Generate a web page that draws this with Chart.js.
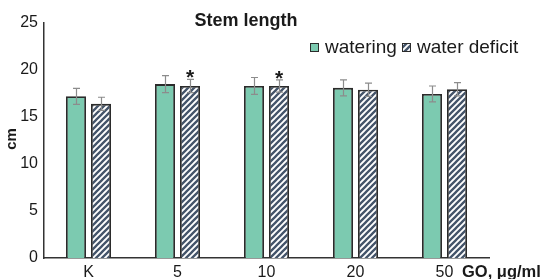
<!DOCTYPE html>
<html>
<head>
<meta charset="utf-8">
<script src="https://cdn.jsdelivr.net/npm/chart.js@4.4.1/dist/chart.umd.min.js"></script>
<style>
html,body{margin:0;padding:0;background:#fff;}
#wrap{width:545px;height:279px;position:relative;}
</style>
</head>
<body>
<div id="wrap"><canvas id="c" width="545" height="279"></canvas></div>
<script>
const categories = ['K', '5', '10', '20', '50'];
const watering = [17.2, 18.5, 18.3, 18.1, 17.45];
const wateringErr = [0.85, 0.9, 0.9, 0.85, 0.85];
const deficit = [16.4, 18.3, 18.3, 17.9, 17.95];
const deficitErr = [0.7, 0.7, 0.65, 0.7, 0.7];
const significance = ['', '*', '*', '', ''];
const seriesNames = ['watering', 'water deficit'];
const yMin = 0, yMax = 25, yStep = 5;
const chartTitle = 'Stem length';
const yTitle = 'cm';
const xTitle = 'GO, μg/ml';

const FONT = '"Liberation Sans", Arial, sans-serif';
const GREEN = '#7ccab0';
const EDGE = '#2b2b2b';
const STRIPE = '#44546a';

const canvas = document.getElementById('c');
const ctx = canvas.getContext('2d');

function makeHatch() {
  const s = 6;
  const c = document.createElement('canvas');
  c.width = s; c.height = s;
  const g = c.getContext('2d');
  g.fillStyle = '#fff';
  g.fillRect(0, 0, s, s);
  g.strokeStyle = STRIPE;
  g.lineWidth = 2.3;
  g.beginPath();
  g.moveTo(-1, s + 1); g.lineTo(s + 1, -1);
  g.moveTo(-1, 1); g.lineTo(1, -1);
  g.moveTo(s - 1, s + 1); g.lineTo(s + 1, s - 1);
  g.stroke();
  return ctx.createPattern(c, 'repeat');
}
const hatch = makeHatch();

const errs = [wateringErr, deficitErr];

const extras = {
  id: 'extras',
  afterDatasetsDraw(chart) {
    const c = chart.ctx;
    const y = chart.scales.y;
    c.save();
    c.strokeStyle = '#8c8c8c';
    c.lineWidth = 1.2;
    chart.data.datasets.forEach((ds, i) => {
      const meta = chart.getDatasetMeta(i);
      meta.data.forEach((bar, j) => {
        const v = ds.data[j], e = errs[i][j];
        const yt = y.getPixelForValue(v + e), yb = y.getPixelForValue(v - e);
        const x = Math.round(bar.x) + 0.5;
        c.beginPath();
        c.moveTo(x, yt); c.lineTo(x, yb);
        c.moveTo(x - 3.5, yt); c.lineTo(x + 3.5, yt);
        c.moveTo(x - 3.5, yb); c.lineTo(x + 3.5, yb);
        c.stroke();
      });
    });
    c.fillStyle = '#1a1a1a';
    c.font = 'bold 21px ' + FONT;
    c.textAlign = 'center';
    c.textBaseline = 'alphabetic';
    const meta1 = chart.getDatasetMeta(1);
    significance.forEach((s, j) => {
      if (!s) return;
      const bar = meta1.data[j];
      const yt = y.getPixelForValue(deficit[j] + deficitErr[j]);
      c.fillText(s, bar.x, yt + 5);
    });
    c.restore();
  },
  afterDraw(chart) {
    const c = chart.ctx;
    const a = chart.chartArea;
    c.save();
    c.fillStyle = '#1a1a1a';
    c.font = 'bold 18px ' + FONT;
    c.textAlign = 'center';
    c.textBaseline = 'middle';
    c.fillText(chartTitle, 246, 21);
    c.save();
    c.translate(12, 139);
    c.rotate(-Math.PI / 2);
    c.font = 'bold 15px ' + FONT;
    c.fillText(yTitle, 0, 0);
    c.restore();
    c.font = 'bold 16.5px ' + FONT;
    c.textAlign = 'left';
    c.textBaseline = 'middle';
    c.fillText(xTitle, a.right - 27, 272);
    const fills = [GREEN, hatch];
    const lx = [310, 402];
    c.font = '19px ' + FONT;
    c.textBaseline = 'middle';
    seriesNames.forEach((n, i) => {
      c.fillStyle = fills[i];
      c.fillRect(lx[i], 43, 9, 9);
      c.strokeStyle = EDGE;
      c.lineWidth = 1;
      c.strokeRect(lx[i] + 0.5, 43.5, 8, 8);
      c.fillStyle = '#1a1a1a';
      c.fillText(n, lx[i] + 15, 48);
    });
    c.restore();
  }
};

new Chart(canvas, {
  type: 'bar',
  data: {
    labels: categories,
    datasets: [
      { label: seriesNames[0], data: watering, backgroundColor: GREEN, borderColor: EDGE, borderWidth: 1.8,
        categoryPercentage: 0.562, barPercentage: 0.8 },
      { label: seriesNames[1], data: deficit, backgroundColor: hatch, borderColor: EDGE, borderWidth: 1.8,
        categoryPercentage: 0.562, barPercentage: 0.8 }
    ]
  },
  options: {
    responsive: false,
    animation: false,
    devicePixelRatio: 1,
    layout: { padding: { top: 23, right: 56, left: 0, bottom: 0 } },
    plugins: { legend: { display: false }, title: { display: false }, tooltip: { enabled: false } },
    scales: {
      x: {
        grid: { display: false, drawTicks: false },
        border: { display: true, color: '#333', width: 1.5 },
        ticks: { color: '#1a1a1a', font: { family: FONT, size: 16 }, padding: 5, maxRotation: 0 },
        afterFit(s) { s.height = 21; }
      },
      y: {
        min: yMin, max: yMax,
        grid: { display: false, drawTicks: false },
        border: { display: true, color: '#333', width: 1.5 },
        ticks: { stepSize: yStep, color: '#1a1a1a', font: { family: FONT, size: 16 }, padding: 6 },
        afterFit(s) { s.width = 44; }
      }
    }
  },
  plugins: [extras]
});
</script>
</body>
</html>
